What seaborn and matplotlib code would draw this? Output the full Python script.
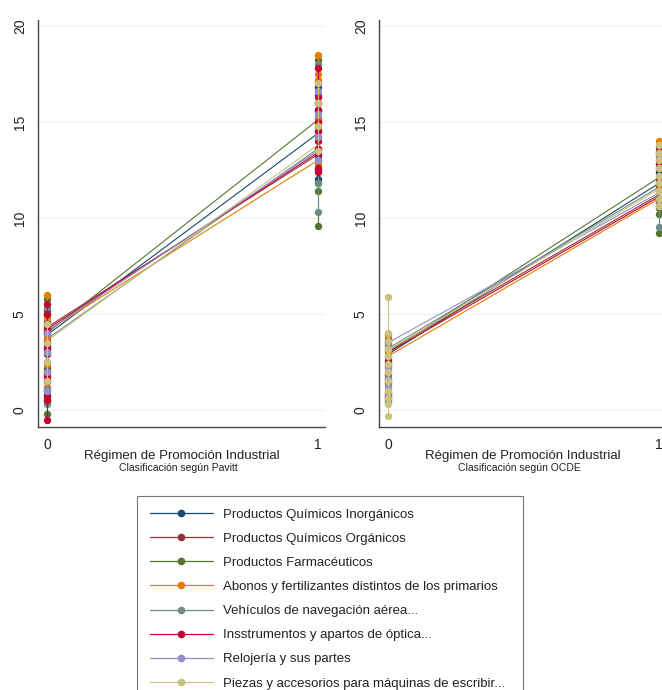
import matplotlib
matplotlib.use("Agg")
import matplotlib.pyplot as plt
from matplotlib.lines import Line2D
import seaborn as sns
import pandas as pd

# series (Stata s2color order)
series = [
    "Productos Químicos Inorgánicos",
    "Productos Químicos Orgánicos",
    "Productos Farmacéuticos",
    "Abonos y fertilizantes distintos de los primarios",
    "Vehículos de navegación aérea...",
    "Insstrumentos y apartos de óptica...",
    "Relojería y sus partes",
    "Piezas y accesorios para máquinas de escribir...",
]
colors = ["#1a476f", "#90353b", "#55752f", "#e37e00",
          "#6e8e84", "#c10534", "#938dd2", "#cac27e"]

# Pavitt panel: observed values at regime 0 and 1
pav_0 = [
    [0.8, 1.5, 2.5, 3.2, 4.0, 4.6, 5.2],
    [0.5, 1.8, 2.9, 3.6, 4.3, 5.0],
    [-0.2, 1.0, 2.2, 3.4, 4.4, 5.8],
    [0.4, 1.2, 2.4, 3.8, 4.8, 6.0],
    [0.3, 1.1, 2.0, 3.0, 4.1, 5.3],
    [-0.5, 0.5, 0.7, 1.5, 1.7, 2.0, 3.1, 3.3, 3.5, 4.0, 4.2, 4.5, 5.0, 5.5],
    [1.0, 2.0, 3.0, 4.0],
    [1.5, 2.5, 3.5, 4.5],
]
pav_1 = [
    [12.0, 13.2, 14.5, 15.6, 16.8],
    [12.5, 13.6, 14.8, 16.0],
    [9.6, 11.4, 11.8, 13.0, 15.2, 18.2],
    [12.8, 14.2, 15.2, 16.4, 17.2, 17.5, 18.5],
    [10.3, 11.8, 13.4, 14.6, 16.4, 18.0],
    [12.4, 12.6, 13.3, 13.6, 14.0, 14.5, 15.0, 15.6, 16.0, 16.3, 17.0, 17.8],
    [13.0, 14.2, 15.4, 16.6],
    [13.5, 14.8, 16.0, 17.0],
]
# Pavitt panel: linear fit at regime 0 and 1
pav_fit0 = [3.9, 4.3, 4.0, 4.1, 3.7, 4.2, 4.1, 3.6]
pav_fit1 = [14.4, 13.3, 15.1, 13.0, 13.6, 13.4, 13.5, 13.8]

# OCDE panel
ocde_0 = [
    [0.6, 1.4, 2.3, 3.1],
    [0.8, 1.6, 2.6, 3.4],
    [0.4, 0.9, 1.8, 2.8, 3.7],
    [1.0, 2.0, 3.0, 3.9],
    [0.5, 1.3, 2.4, 3.5],
    [0.7, 1.5, 2.5, 3.6],
    [0.9, 1.2, 1.6, 2.2, 3.3],
    [-0.3, 0.3, 0.6, 1.0, 1.5, 2.0, 2.4, 2.8, 3.2, 3.6, 4.0, 5.9],
]
ocde_1 = [
    [10.8, 11.6, 12.4, 13.0],
    [10.9, 11.8, 12.6, 13.4],
    [9.2, 10.2, 10.5, 11.0, 12.2, 13.5],
    [11.5, 12.8, 14.0],
    [9.5, 10.8, 12.0, 13.2],
    [11.0, 11.9, 12.8, 13.7],
    [10.6, 11.4, 12.6, 13.3],
    [10.6, 11.0, 11.4, 11.8, 12.2, 12.6, 13.0, 13.4, 13.8],
]
ocde_fit0 = [2.9, 3.1, 3.0, 2.8, 3.2, 3.0, 3.5, 3.1]
ocde_fit1 = [11.8, 11.2, 12.1, 11.0, 11.6, 11.1, 11.3, 11.5]

yticks = [0, 5, 10, 15, 20]
xticks = [0, 1]
xlabel = "Régimen de Promoción Industrial"
subtitles = ["Clasificación según Pavitt", "Clasificación según OCDE"]

sns.set_style("white")
plt.rcParams["font.family"] = ["Liberation Sans", "DejaVu Sans"]

fig = plt.figure(figsize=(6.62, 6.90), dpi=100)
ax_l = fig.add_axes([38 / 662, 1 - 427 / 690, 287 / 662, 407 / 690])
ax_r = fig.add_axes([379 / 662, 1 - 427 / 690, 287 / 662, 407 / 690])


def draw_panel(ax, pts0, pts1, fit0, fit1, subtitle):
    fits = pd.DataFrame({
        "x": [0] * len(series) + [1] * len(series),
        "y": fit0 + fit1,
        "serie": series + series,
    })
    sns.lineplot(data=fits, x="x", y="y", hue="serie", hue_order=series,
                 palette=colors, linewidth=0.8, legend=False, ax=ax)
    for i, name in enumerate(series):
        for xv, vals in ((0, pts0[i]), (1, pts1[i])):
            ax.plot([xv] * len(vals), vals, color=colors[i], lw=0.8,
                    marker="o", ms=4.3, mec=colors[i], zorder=3 + i)

    ax.set_xlim(-0.033, 1.026)
    ax.set_ylim(-0.885, 20.3)
    ax.set_yticks(yticks)
    ax.set_xticks(xticks)
    ax.set_yticklabels([str(t) for t in yticks], rotation=90, va="center",
                       fontsize=10, color="#222222")
    ax.set_xticklabels([str(t) for t in xticks], fontsize=10, color="#222222")
    ax.tick_params(axis="both", length=4, width=0.8, color="#444444", pad=4)
    ax.grid(axis="y", color="#eaf2f3", lw=0.8)
    ax.set_axisbelow(True)
    for s in ("top", "right"):
        ax.spines[s].set_visible(False)
    for s in ("left", "bottom"):
        ax.spines[s].set_color("#444444")
        ax.spines[s].set_linewidth(1.0)
    ax.set_xlabel("")
    ax.set_ylabel("")
    ax.annotate(xlabel, xy=(0.5, 0), xycoords="axes fraction",
                xytext=(0, -29), textcoords="offset pixels",
                ha="center", va="center", fontsize=9.5, color="#222222")
    ax.annotate(subtitle, xy=(0.5, 0), xycoords="axes fraction",
                xytext=(-3, -41), textcoords="offset pixels",
                ha="center", va="center", fontsize=7.5, color="#222222")


draw_panel(ax_l, pav_0, pav_1, pav_fit0, pav_fit1, subtitles[0])
draw_panel(ax_r, ocde_0, ocde_1, ocde_fit0, ocde_fit1, subtitles[1])

handles = [Line2D([0], [0], color=c, lw=0.9, marker="o", ms=4.5, mec=c)
           for c in colors]
leg = fig.legend(handles, series, loc="upper left", mode="expand",
                 bbox_to_anchor=(137 / 662, 0, 386 / 662, 1 - 496 / 690),
                 fontsize=9.5, frameon=True, fancybox=False,
                 handlelength=4.8, handletextpad=0.75, labelspacing=0.9,
                 borderpad=0.95, borderaxespad=0, ncol=1)
leg.get_frame().set_edgecolor("#555555")
leg.get_frame().set_linewidth(0.8)
for t in leg.get_texts():
    t.set_color("#222222")

fig.savefig("out.png", dpi=100)
